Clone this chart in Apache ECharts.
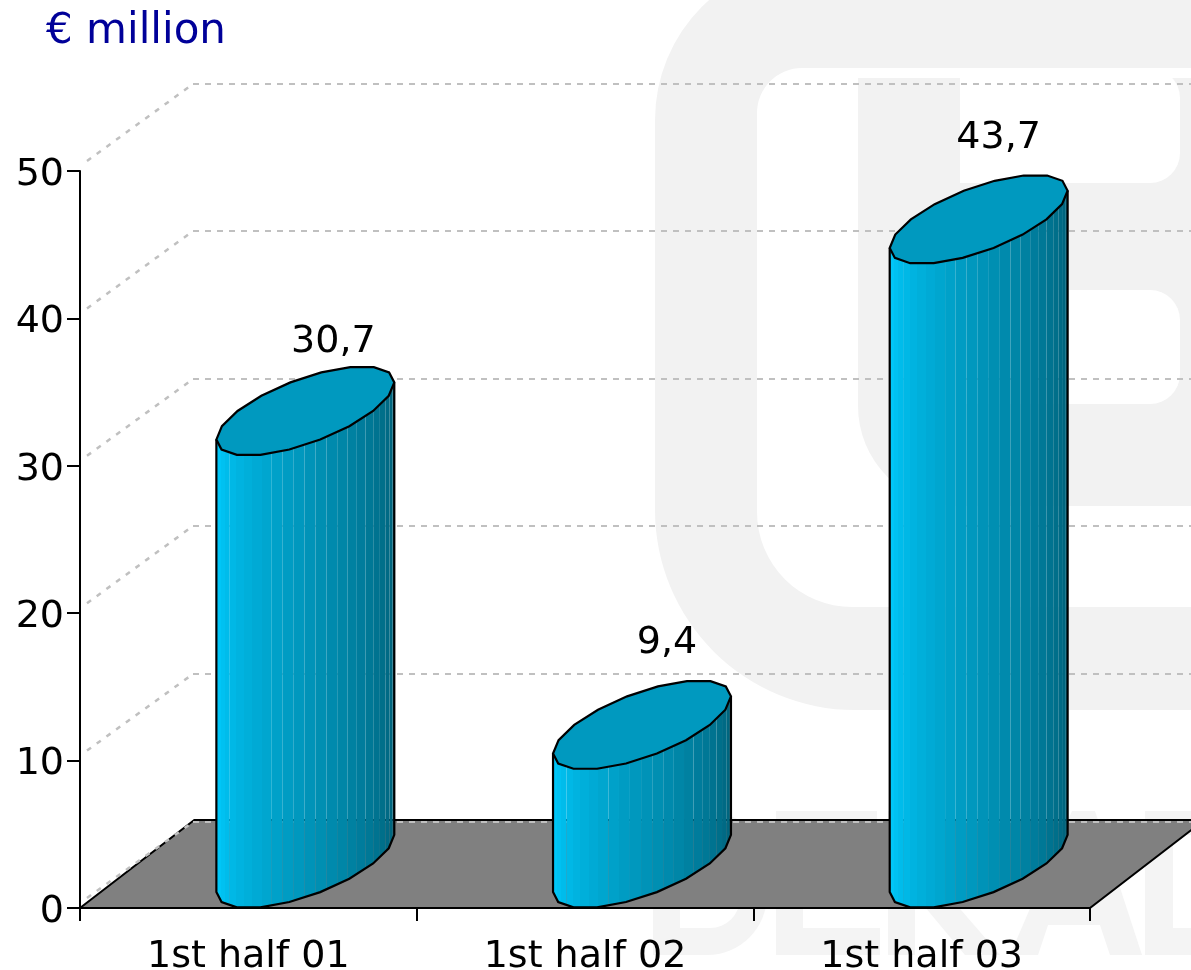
<!DOCTYPE html>
<html>
<head>
<meta charset="utf-8">
<style>html,body{margin:0;padding:0;background:#fff}#c{width:1191px;height:970px}</style>
<script src="https://cdn.jsdelivr.net/npm/echarts@6/dist/echarts.min.js"></script>
</head>
<body>
<div id="c"></div>
<script>
// ---- data ----
const categories = ['1st half 01', '1st half 02', '1st half 03'];
const values = [30.7, 9.4, 43.7];
const yTicks = [0, 10, 20, 30, 40, 50];
const unitTitle = '€ million';

// ---- label nudges (pixels from the bar's top centre) ----
const labelShiftX = [28, 25, 20];
const labelShiftY = [-113, -126, -126];

// ---- 3D look ----
const FONT = '"DejaVu Sans"';
const DEPTH_X = 113, DEPTH_Y = 87;
const SHEAR_A = 67.8, SHEAR_B = 57.6, ELL_H = 44.5; // sheared disc radii
const HALF_W = 88.9;
const SEGMENTS = 18;
const GRAY = '#f2f2f2', LETTER = '#f4f4f4', WHITE = '#ffffff';

function discPoints(cx, cy) {
  const pts = [];
  for (let i = 0; i < SEGMENTS; i++) {
    const t = (-80 + i * 360 / SEGMENTS) * Math.PI / 180;
    pts.push([cx + SHEAR_A * Math.cos(t) + SHEAR_B * Math.sin(t), cy - ELL_H * Math.sin(t)]);
  }
  return pts;
}
// lower-front chain, left extreme to right extreme
function frontChain(cx, cy) {
  const pts = discPoints(cx, cy);
  const chain = [];
  for (let k = 0; k <= 9; k++) chain.push(pts[(15 + k) % SEGMENTS]);
  return chain;
}
function chainY(chain, x) {
  if (x <= chain[0][0]) return chain[0][1];
  for (let i = 1; i < chain.length; i++) {
    if (x <= chain[i][0]) {
      const a = chain[i - 1], b = chain[i];
      return a[1] + (b[1] - a[1]) * (x - a[0]) / (b[0] - a[0]);
    }
  }
  return chain[chain.length - 1][1];
}
const stripAngles = [180];
for (let k = 24; k >= 0; k--) stripAngles.push(4.2 + 7.2 * k);
stripAngles.push(0);

function stripColor(f) {
  return 'rgb(0,' + Math.round(204 * f) + ',' + Math.round(255 * f) + ')';
}
// the left-hand facets meet without a visible seam
function stripEdge(cx, angle) {
  const x = cx + HALF_W * Math.cos(angle * Math.PI / 180);
  return (angle > 113 && Math.abs(angle - 148.2) > 1) ? Math.round(x) : x;
}

function renderBar(params, api) {
  const i = api.value(0);
  const p = api.coord([i, api.value(1)]);
  const p0 = api.coord([i, 0]);
  const cx = p[0] + DEPTH_X / 2 + 0.5;
  const cyTop = p[1] - ELL_H;
  const cyBase = p0[1] - ELL_H;
  const topChain = frontChain(cx, cyTop);
  const baseChain = frontChain(cx, cyBase);
  const children = [];
  const n = stripAngles.length - 1;
  for (let s = 0; s < n; s++) {
    const x0 = stripEdge(cx, stripAngles[s]);
    const x1 = stripEdge(cx, stripAngles[s + 1]);
    const f = 1 - 0.56 * ((180 - stripAngles[s]) / 180);
    children.push({
      type: 'polygon',
      shape: { points: [[x0, chainY(topChain, x0)], [x1, chainY(topChain, x1)], [x1, chainY(baseChain, x1)], [x0, chainY(baseChain, x0)]] },
      style: { fill: stripColor(f), stroke: null }
    });
  }
  const outline = [topChain[0]].concat(baseChain, [topChain[topChain.length - 1]]);
  children.push({ type: 'polyline', shape: { points: outline }, style: { stroke: '#000', lineWidth: 2.2, fill: null } });
  children.push({ type: 'polygon', shape: { points: discPoints(cx, cyTop) }, style: { fill: '#0099bf', stroke: '#000', lineWidth: 2.2 } });
  children.push({
    type: 'text',
    style: {
      text: String(values[i]).replace('.', ','),
      x: cx + labelShiftX[i], y: p[1] + labelShiftY[i],
      fill: '#000', font: '38px ' + FONT, textAlign: 'center', textVerticalAlign: 'middle'
    }
  });
  return { type: 'group', children };
}

function renderFloor(params, api) {
  const sys = params.coordSys;
  const y = api.coord([0, 0])[1];
  const d = DEPTH_Y + 1, dx = d * DEPTH_X / DEPTH_Y;
  return {
    type: 'polygon',
    shape: { points: [[sys.x, y], [sys.x + dx, y - d], [sys.x + sys.width + dx, y - d], [sys.x + sys.width, y]] },
    style: { fill: '#808080', stroke: '#000', lineWidth: 2 }
  };
}

function renderWall(params, api) {
  const sys = params.coordSys;
  const v = api.value(1);
  const y = api.coord([0, v])[1];
  const bx = sys.x + DEPTH_X, by = Math.round(y - DEPTH_Y) + (v === 0 ? 1 : 0);
  return {
    type: 'group',
    children: [
      { type: 'line', shape: { x1: sys.x + 7, y1: y - 10, x2: bx, y2: by }, style: { stroke: '#c0c0c0', lineWidth: 2.5, lineDash: [5, 7], fill: null } },
      { type: 'line', shape: { x1: bx, y1: by, x2: sys.x + sys.width + DEPTH_X, y2: by }, style: { stroke: '#c0c0c0', lineWidth: 2, lineDash: [6, 6], fill: null } }
    ]
  };
}

const chart = echarts.init(document.getElementById('c'), null, { renderer: 'canvas' });
chart.setOption({
  animation: false,
  backgroundColor: '#fff',
  title: {
    text: unitTitle, left: 41, top: 6,
    textStyle: { color: '#000099', fontFamily: FONT, fontSize: 42, fontWeight: 'normal' }
  },
  grid: { left: 80, right: 101, top: 171, bottom: 62, containLabel: false, outerBoundsMode: 'none' },
  xAxis: {
    type: 'category', data: categories, boundaryGap: true,
    axisLine: { onZero: false, lineStyle: { color: '#000', width: 2 } },
    axisTick: { show: true, alignWithLabel: false, length: 13, lineStyle: { color: '#000', width: 2 } },
    axisLabel: { color: '#000', fontFamily: FONT, fontSize: 38, margin: 30, interval: 0 },
    splitLine: { show: false }
  },
  yAxis: {
    type: 'value', min: 0, max: 50, interval: 10,
    axisLine: { show: true, lineStyle: { color: '#000', width: 2 } },
    axisTick: { show: true, length: 13, lineStyle: { color: '#000', width: 2 } },
    axisLabel: {
      margin: 16, formatter: '{t|{value}}',
      rich: { t: { color: '#000', fontFamily: FONT, fontSize: 38, padding: [8, 0, 0, 0] } }
    },
    splitLine: { show: false }
  },
  graphic: {
    elements: [
      { type: 'rect', z: 0, shape: { x: 655, y: -40, width: 700, height: 750, r: [160, 0, 0, 200] }, style: { fill: GRAY } },
      { type: 'rect', z: 0, shape: { x: 757, y: 68, width: 700, height: 539, r: [45, 0, 0, 95] }, style: { fill: WHITE } },
      { type: 'rect', z: 0, shape: { x: 858, y: 78, width: 500, height: 428, r: [0, 0, 0, 100] }, style: { fill: GRAY } },
      { type: 'rect', z: 0, shape: { x: 960, y: 68, width: 220, height: 115, r: [0, 30, 30, 0] }, style: { fill: WHITE } },
      { type: 'rect', z: 0, shape: { x: 960, y: 290, width: 220, height: 114, r: [0, 30, 30, 0] }, style: { fill: WHITE } },
      // faint letters of the backdrop
      { type: 'rect', z: 0, shape: { x: 653, y: 811, width: 114, height: 144, r: [0, 60, 60, 0] }, style: { fill: LETTER } },
      { type: 'rect', z: 0, shape: { x: 680, y: 838, width: 60, height: 90, r: [0, 30, 30, 0] }, style: { fill: WHITE } },
      { type: 'rect', z: 0, shape: { x: 776, y: 811, width: 27, height: 144 }, style: { fill: LETTER } },
      { type: 'rect', z: 0, shape: { x: 776, y: 811, width: 101, height: 27 }, style: { fill: LETTER } },
      { type: 'rect', z: 0, shape: { x: 776, y: 870, width: 95, height: 25 }, style: { fill: LETTER } },
      { type: 'rect', z: 0, shape: { x: 776, y: 928, width: 104, height: 27 }, style: { fill: LETTER } },
      { type: 'rect', z: 0, shape: { x: 888, y: 811, width: 27, height: 144 }, style: { fill: LETTER } },
      { type: 'polygon', z: 0, shape: { points: [[915, 870], [965, 811], [998, 811], [935, 880], [1000, 955], [965, 955], [915, 895]] }, style: { fill: LETTER } },
      { type: 'polygon', z: 0, shape: { points: [[1072, 811], [1095, 811], [1142, 955], [1110, 955], [1100, 925], [1048, 925], [1038, 955], [1010, 955]] }, style: { fill: LETTER } },
      { type: 'rect', z: 0, shape: { x: 1145, y: 811, width: 28, height: 144 }, style: { fill: LETTER } },
      { type: 'rect', z: 0, shape: { x: 1145, y: 811, width: 60, height: 24 }, style: { fill: LETTER } },
      { type: 'rect', z: 0, shape: { x: 1145, y: 928, width: 60, height: 27 }, style: { fill: LETTER } }
    ]
  },
  series: [
    { type: 'custom', name: 'floor', coordinateSystem: 'cartesian2d', clip: false, z: 2, silent: true, data: [[0, 0]], renderItem: renderFloor },
    { type: 'custom', name: 'walls', coordinateSystem: 'cartesian2d', clip: false, z: 3, silent: true, data: yTicks.map(v => [0, v]), renderItem: renderWall },
    { type: 'custom', name: 'bars', coordinateSystem: 'cartesian2d', clip: false, z: 4, silent: true, encode: { x: 0, y: 1 }, data: categories.map((c, i) => [i, values[i]]), renderItem: renderBar }
  ]
});
</script>
</body>
</html>
